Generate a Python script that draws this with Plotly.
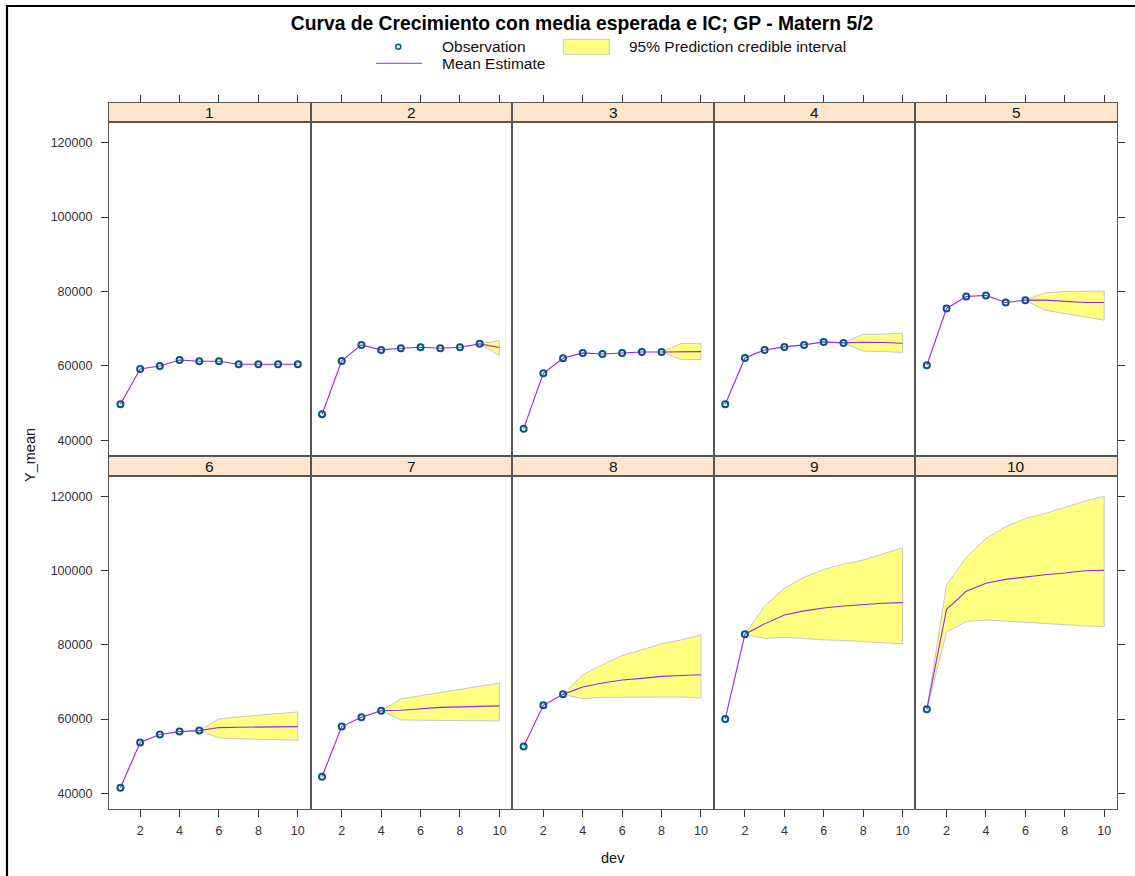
import plotly.graph_objects as go

# ---------------- data ----------------
dev = [1, 2, 3, 4, 5, 6, 7, 8, 9, 10]
panel_labels = ["1", "2", "3", "4", "5", "6", "7", "8", "9", "10"]

obs_values = [
    [49700, 59200, 60000, 61600, 61250, 61250, 60450, 60450, 60450, 60450],
    [47000, 61350, 65650, 64300, 64750, 65030, 64750, 65030, 65930],
    [43150, 58030, 62060, 63500, 63220, 63500, 63760, 63760],
    [49700, 62150, 64300, 65110, 65650, 66450, 66180],
    [60180, 75430, 78670, 78940, 77050, 77670],
    [41530, 53690, 55840, 56640, 56910],
    [44480, 57990, 60490, 62280],
    [52620, 63710, 66660],
    [60000, 82870],
    [62640],
]

pred_mean = [
    [],
    [64950],
    [63850, 63850],
    [66370, 66300, 66100],
    [77670, 77400, 77050, 77050],
    [57720, 57800, 57900, 57950, 57990],
    [62370, 62800, 63170, 63300, 63400, 63550],
    [68640, 69710, 70510, 70960, 71500, 71760, 71950],
    [85640, 88050, 89130, 89930, 90470, 90920, 91190, 91370],
    [89580, 94410, 96560, 97630, 98350, 98880, 99330, 99950, 100040],
]

pred_upper = [
    [],
    [66830],
    [66010, 66010],
    [68520, 68520, 68790],
    [79640, 80000, 80100, 80100],
    [60050, 60600, 61000, 61400, 61930],
    [65420, 66310, 67200, 68100, 68900, 69710],
    [71950, 74630, 77130, 78660, 80270, 81340, 82680],
    [90470, 95210, 98170, 100310, 101740, 102810, 104430, 106120],
    [96110, 103540, 108640, 111770, 114010, 115350, 116960, 118660, 120000],
]

pred_lower = [
    [],
    [62790],
    [61710, 61710],
    [63950, 63900, 63600],
    [74980, 74090, 73190, 72290],
    [54950, 54700, 54500, 54400, 54310],
    [59780, 59700, 59600, 59510, 59510, 59510],
    [65500, 65850, 65950, 65950, 65950, 65950, 65680],
    [81700, 82060, 81700, 81340, 81160, 80980, 80620, 80270],
    [83410, 86270, 86710, 86530, 86090, 85820, 85460, 85100, 84920],
]

y_ticks = [40000, 60000, 80000, 100000, 120000]
y_tick_text = ["40000", "60000", "80000", "100000", "120000"]
x_ticks = [2, 4, 6, 8, 10]
x_tick_text = ["2", "4", "6", "8", "10"]

title_text = "Curva de Crecimiento con media esperada e IC; GP - Matern 5/2"

# ---------------- styles ----------------
FONT = "Arial, Liberation Sans, sans-serif"
OBS_COLOR = "#005a7c"
MEAN_COLOR = "#a020f0"
BAND_FILL = "#ffff80"
BAND_LINE = "#c8c8c8"
STRIP_BG = "#ffe5cc"
FRAME = "#555555"
TICKC = "#333333"

W, H = 1135, 876
ML, MR, MT, MB = 109, 18, 103, 67
PW = W - ML - MR
PH = H - MT - MB


def px_x(px):
    return (px - ML) / PW


def px_y(py):
    return (H - MB - py) / PH


X_RANGE = [0.42, 10.65]
Y_RANGE = [35800, 125450]

row_main = [[px_y(456), px_y(122.3)], [0, px_y(476)]]
row_strip = [[px_y(122.3), 1.0], [px_y(476), px_y(456)]]

fig = go.Figure()
layout = {}
shapes = []
annotations = []

for p in range(10):
    r, c = divmod(p, 5)
    n_main = 2 * p + 1
    n_strip = 2 * p + 2
    xm = "x" if n_main == 1 else f"x{n_main}"
    ym = "y" if n_main == 1 else f"y{n_main}"
    xs, ys = f"x{n_strip}", f"y{n_strip}"
    xdom = [c * 0.2, (c + 1) * 0.2]

    xa = dict(domain=xdom, range=X_RANGE, anchor=ym, showgrid=False, zeroline=False,
              showline=True, mirror=True, linecolor=FRAME, linewidth=1.3,
              tickvals=x_ticks, ticktext=x_tick_text,
              tickfont=dict(family=FONT, size=12.5, color=TICKC))
    if r == 1:
        xa.update(ticks="outside", ticklen=7, tickcolor=TICKC, showticklabels=True,
                  ticklabelstandoff=3)
    else:
        xa.update(ticks="", showticklabels=False)
    ya = dict(domain=row_main[r], range=Y_RANGE, anchor=xm, showgrid=False, zeroline=False,
              showline=True, mirror=True, linecolor=FRAME, linewidth=1.3,
              tickvals=y_ticks, ticktext=y_tick_text,
              tickfont=dict(family=FONT, size=12.5, color=TICKC))
    if c == 0:
        ya.update(ticks="outside", ticklen=7, tickcolor=TICKC, showticklabels=True, side="left",
                  ticklabelstandoff=6)
    elif c == 4:
        ya.update(ticks="outside", ticklen=7, tickcolor=TICKC, showticklabels=False, side="right")
    else:
        ya.update(ticks="", showticklabels=False)
    layout["xaxis" if n_main == 1 else f"xaxis{n_main}"] = xa
    layout["yaxis" if n_main == 1 else f"yaxis{n_main}"] = ya

    xsa = dict(domain=xdom, range=X_RANGE, anchor=ys, showgrid=False, zeroline=False,
               showline=True, mirror=True, linecolor=FRAME, linewidth=1.3,
               tickvals=x_ticks, showticklabels=False)
    if r == 0:
        xsa.update(side="top", ticks="outside", ticklen=7, tickcolor=TICKC)
    else:
        xsa.update(ticks="")
    ysa = dict(domain=row_strip[r], range=[0, 1], anchor=xs, showgrid=False, zeroline=False,
               showline=True, mirror=True, linecolor=FRAME, linewidth=1.3,
               ticks="", showticklabels=False)
    layout[f"xaxis{n_strip}"] = xsa
    layout[f"yaxis{n_strip}"] = ysa

    # invisible trace so the strip subplot is created
    fig.add_trace(go.Scatter(x=[5], y=[0.5], mode="markers", marker=dict(opacity=0),
                             xaxis=xs, yaxis=ys, showlegend=False, hoverinfo="skip"))
    shapes.append(dict(type="rect", xref=f"{xs} domain", yref=f"{ys} domain",
                       x0=0, x1=1, y0=0, y1=1, fillcolor=STRIP_BG,
                       line=dict(width=0), layer="below"))
    annotations.append(dict(text=panel_labels[p], xref=f"{xs} domain", yref=f"{ys} domain",
                            x=0.5, y=0.5, xanchor="center", yanchor="middle", showarrow=False,
                            font=dict(family=FONT, size=15.5, color="#111111")))

    obs = obs_values[p]
    n_obs = len(obs)
    obs_dev = dev[:n_obs]
    fut_dev = dev[n_obs:]

    if pred_mean[p]:
        bx = [obs_dev[-1]] + fut_dev
        up = [obs[-1]] + pred_upper[p]
        lo = [obs[-1]] + pred_lower[p]
        fig.add_trace(go.Scatter(x=bx + bx[::-1], y=up + lo[::-1], fill="toself",
                                 fillcolor=BAND_FILL, line=dict(color=BAND_LINE, width=1),
                                 mode="lines", xaxis=xm, yaxis=ym, showlegend=False,
                                 hoverinfo="skip"))
    fig.add_trace(go.Scatter(x=obs_dev + fut_dev, y=obs + pred_mean[p], mode="lines",
                             line=dict(color=MEAN_COLOR, width=1.1),
                             xaxis=xm, yaxis=ym, showlegend=False))
    fig.add_trace(go.Scatter(x=obs_dev, y=obs, mode="markers",
                             marker=dict(symbol="circle-open", size=6, color=OBS_COLOR,
                                         line=dict(width=2, color=OBS_COLOR)),
                             xaxis=xm, yaxis=ym, showlegend=False))

annotations.append(dict(text="Y_mean", xref="paper", yref="paper", x=px_x(30), y=px_y(455),
                        textangle=-90, showarrow=False, xanchor="center", yanchor="middle",
                        font=dict(family=FONT, size=14.5, color="#111111")))
annotations.append(dict(text="dev", xref="paper", yref="paper", x=px_x(613), y=px_y(858),
                        showarrow=False, xanchor="center", yanchor="middle",
                        font=dict(family=FONT, size=14.5, color="#111111")))

shapes.append(dict(type="circle", xref="paper", yref="paper",
                   x0=px_x(395.8), x1=px_x(400.8), y0=px_y(49.2), y1=px_y(44.2),
                   line=dict(color=OBS_COLOR, width=1.5)))
shapes.append(dict(type="line", xref="paper", yref="paper",
                   x0=px_x(376), x1=px_x(422), y0=px_y(63.3), y1=px_y(63.3),
                   line=dict(color=MEAN_COLOR, width=1.1)))
shapes.append(dict(type="rect", xref="paper", yref="paper",
                   x0=px_x(563.3), x1=px_x(609.3), y0=px_y(54.3), y1=px_y(39.3),
                   fillcolor=BAND_FILL, line=dict(color=BAND_LINE, width=1)))
for txt, lx, ly in [("Observation", 440, 47), ("Mean Estimate", 440, 63.5),
                    ("95% Prediction credible interval", 626.7, 47)]:
    annotations.append(dict(text=txt, xref="paper", yref="paper", x=px_x(lx), y=px_y(ly),
                            xanchor="left", yanchor="middle", showarrow=False,
                            font=dict(family=FONT, size=15.5, color="#111111")))

shapes.append(dict(type="path", xref="paper", yref="paper",
                   path=f"M {px_x(7)} {px_y(900)} L {px_x(7)} {px_y(6)} L {px_x(1160)} {px_y(6)}",
                   line=dict(color="black", width=2.2)))

fig.update_layout(**layout)
fig.update_layout(
    width=W, height=H,
    margin=dict(l=ML, r=MR, t=MT, b=MB),
    paper_bgcolor="white", plot_bgcolor="white",
    shapes=shapes, annotations=annotations,
    title=dict(text=f"<b>{title_text}</b>", x=582 / W, xanchor="center",
               y=1 - 23 / H, yanchor="middle", yref="container",
               font=dict(family=FONT, size=19.3, color="black")),
    showlegend=False,
)

fig.write_html("out.html")
